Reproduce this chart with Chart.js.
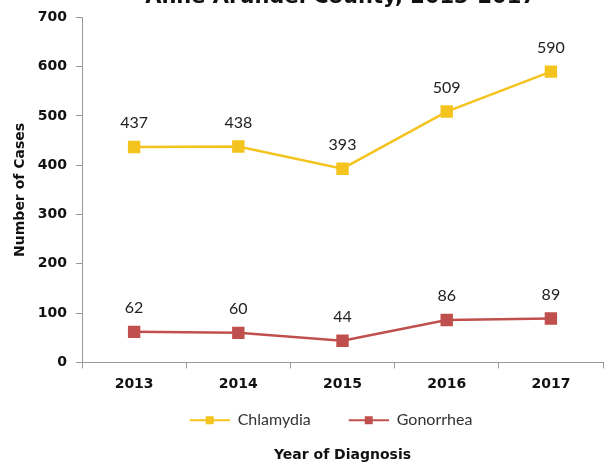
<!DOCTYPE html>
<html>
<head>
<meta charset="utf-8">
<title>Chlamydia and Gonorrhea Cases</title>
<script src="https://cdn.jsdelivr.net/npm/chart.js@4.4.1/dist/chart.umd.min.js"></script>
<style>
  html, body { margin: 0; padding: 0; background: #fff; }
  #wrap { width: 613px; height: 464px; }
</style>
</head>
<body>
<div id="wrap"><canvas id="myChart" width="613" height="464"></canvas></div>
<script>
'use strict';

let years = ['2013', '2014', '2015', '2016', '2017'];
let chlamydia = [437, 438, 393, 509, 590];
let gonorrhea = [62, 60, 44, 86, 89];
let yTicks = [0, 100, 200, 300, 400, 500, 600, 700];

let chartTitle = 'Anne Arundel County, 2013-2017';
let yellow = '#F4C31E';
let red = '#C0504D';
let fontName = 'Lato, "DejaVu Sans", sans-serif';
let boldFont = '"DejaVu Sans", sans-serif';

// legend marker: blank space (gap between items), then a line with a square in the middle
function legendMarker(color) {
  let c = document.createElement('canvas');
  c.width = 67;
  c.height = 12;
  let g = c.getContext('2d');
  g.strokeStyle = color;
  g.lineWidth = 2;
  g.beginPath();
  g.moveTo(27, 6);
  g.lineTo(67, 6);
  g.stroke();
  g.fillStyle = color;
  g.fillRect(43, 2, 8, 8);
  return c;
}

// values written above each point
let valueLabels = {
  id: 'valueLabels',
  afterDatasetsDraw(chart) {
    let ctx = chart.ctx;
    ctx.save();
    ctx.font = '16px ' + fontName;
    ctx.fillStyle = '#222';
    ctx.textAlign = 'center';
    ctx.textBaseline = 'middle';
    chart.data.datasets.forEach(function (ds, i) {
      let meta = chart.getDatasetMeta(i);
      meta.data.forEach(function (pt, j) {
        ctx.fillText(ds.data[j], pt.x, pt.y - 24);
      });
    });
    ctx.restore();
  }
};

// title that is cut off at the top edge of the picture
let clippedTitle = {
  id: 'clippedTitle',
  afterDraw(chart) {
    let ctx = chart.ctx;
    let area = chart.chartArea;
    ctx.save();
    ctx.font = 'bold 21px ' + boldFont;
    ctx.fillStyle = '#111';
    ctx.textAlign = 'center';
    ctx.textBaseline = 'alphabetic';
    ctx.fillText(chartTitle, (area.left + area.right) / 2 - 2, 3);
    ctx.restore();
  }
};

// legend sits a little left of the plot centre in the original
let legendShift = {
  id: 'legendShift',
  afterLayout(chart) {
    chart.legend.left -= 25;
    chart.legend.right -= 25;
  }
};

let ctx = document.getElementById('myChart').getContext('2d');
new Chart(ctx, {
  type: 'line',
  data: {
    labels: years,
    datasets: [{
      label: 'Chlamydia',
      data: chlamydia,
      borderColor: yellow,
      backgroundColor: yellow,
      borderWidth: 2.5,
      pointStyle: 'rect',
      pointRadius: 7,
      pointHoverRadius: 7,
      tension: 0
    }, {
      label: 'Gonorrhea',
      data: gonorrhea,
      borderColor: red,
      backgroundColor: red,
      borderWidth: 2.5,
      pointStyle: 'rect',
      pointRadius: 7,
      pointHoverRadius: 7,
      tension: 0
    }]
  },
  options: {
    responsive: false,
    animation: false,
    layout: { padding: { top: 10, right: 10, left: 12, bottom: 0 } },
    scales: {
      x: {
        offset: true,
        grid: { display: true, drawOnChartArea: false, offset: true, tickLength: 6, color: '#999' },
        border: { color: '#999', width: 1 },
        ticks: { color: '#111', font: { family: boldFont, size: 14, weight: 'bold' }, padding: 8 }
      },
      y: {
        min: 0,
        max: 700,
        afterBuildTicks: function (scale) {
          scale.ticks = yTicks.map(function (v) { return { value: v }; });
        },
        grid: { display: true, drawOnChartArea: false, tickLength: 6, color: '#999' },
        border: { color: '#999', width: 1 },
        ticks: { color: '#111', font: { family: boldFont, size: 14, weight: 'bold' }, padding: 9 },
        title: {
          display: true,
          text: 'Number of Cases',
          color: '#111',
          font: { family: boldFont, size: 14, weight: 'bold' },
          padding: { top: 0, bottom: 0 }
        }
      }
    },
    plugins: {
      legend: {
        position: 'bottom',
        fullSize: false,
        labels: {
          color: '#333',
          font: { family: fontName, size: 16 },
          usePointStyle: true,
          pointStyleWidth: 67,
          boxHeight: 12,
          padding: 11,
          generateLabels: function (chart) {
            return chart.data.datasets.map(function (ds, i) {
              return {
                text: ds.label,
                pointStyle: legendMarker(ds.borderColor),
                fillStyle: ds.borderColor,
                strokeStyle: ds.borderColor,
                lineWidth: 0,
                fontColor: '#333',
                datasetIndex: i
              };
            });
          }
        }
      },
      title: {
        display: true,
        position: 'bottom',
        fullSize: false,
        text: 'Year of Diagnosis',
        color: '#111',
        font: { family: boldFont, size: 14, weight: 'bold' },
        padding: { top: 9, bottom: 0 }
      },
      tooltip: { enabled: false }
    }
  },
  plugins: [valueLabels, clippedTitle, legendShift]
});
</script>
</body>
</html>
